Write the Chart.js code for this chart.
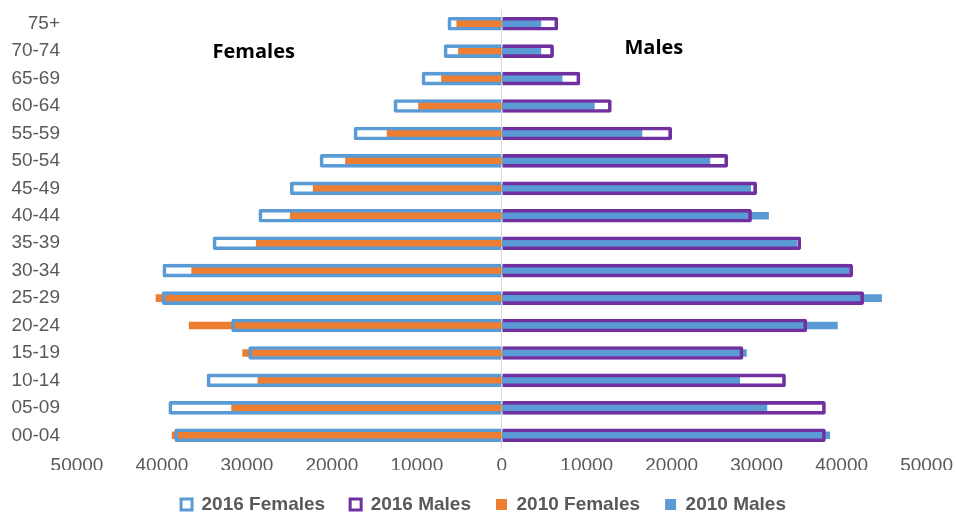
<!DOCTYPE html>
<html>
<head>
<meta charset="utf-8">
<script src="https://cdn.jsdelivr.net/npm/chart.js@4/dist/chart.umd.min.js"></script>
<style>
  html, body { margin: 0; padding: 0; background: #ffffff; }
  #wrap { width: 956px; height: 513px; position: relative; }
</style>
</head>
<body>
<div id="wrap"><canvas id="pyramid"></canvas></div>
<script>
// Age groups, youngest first (drawn bottom-up)
const ageGroups = ['00-04', '05-09', '10-14', '15-19', '20-24', '25-29', '30-34', '35-39',
                   '40-44', '45-49', '50-54', '55-59', '60-64', '65-69', '70-74', '75+'];

// Population counts per age group
const females2016 = [38500, 39200, 34700, 29800, 31800, 40000, 39900, 34000,
                     28600, 24900, 21400, 17400, 12700, 9400, 6800, 6350];
const males2016   = [38100, 38100, 33400, 28400, 35900, 42600, 41300, 35200,
                     29400, 30000, 26600, 20000, 12900, 9200, 6100, 6600];
const females2010 = [38800, 31800, 28700, 30500, 36800, 40700, 36500, 28900,
                     24900, 22200, 18400, 13500, 9800, 7100, 5100, 5300];
const males2010   = [38600, 31200, 28000, 28800, 39500, 44700, 40900, 34700,
                     31400, 29300, 24500, 16500, 10900, 7100, 4600, 4600];

// Axis tick values
const axisMin = -50000;
const axisMax = 50000;
const axisStep = 10000;

const BLUE = '#5B9BD5';
const ORANGE = '#ED7D31';
const PURPLE = '#7030A0';
const TEXT = '#595959';
const NONE = 'rgba(0,0,0,0)';

// Side captions placed inside the plot area
const sideTitles = {
  id: 'sideTitles',
  afterDatasetsDraw(chart) {
    const { ctx, chartArea: a } = chart;
    const w = a.right - a.left, h = a.bottom - a.top;
    ctx.save();
    ctx.fillStyle = '#000000';
    ctx.font = 'bold 20px "Open Sans", "Liberation Sans", sans-serif';
    ctx.textAlign = 'center';
    ctx.textBaseline = 'middle';
    ctx.fillText('Females', a.left + w * 0.208, a.top + h * 0.096);
    ctx.fillText('Males', a.left + w * 0.679, a.top + h * 0.088);
    ctx.restore();
  }
};

const outline = (label, values, color, sign) => ({
  label,
  data: values.map(v => sign * v),
  backgroundColor: NONE,
  borderColor: color,
  borderWidth: 3,
  borderRadius: 2,
  barThickness: 13
});

const filled = (label, values, color, sign) => ({
  label,
  data: values.map(v => sign * v),
  backgroundColor: color,
  borderWidth: 0,
  barThickness: 7
});

const tickFont = { family: '"Liberation Sans", Arial, sans-serif', size: 19, lineHeight: 1 };

new Chart(document.getElementById('pyramid'), {
  type: 'bar',
  data: {
    labels: ageGroups,
    datasets: [
      outline('2016 Females', females2016, BLUE, -1),
      outline('2016 Males', males2016, PURPLE, 1),
      filled('2010 Females', females2010, ORANGE, -1),
      filled('2010 Males', males2010, BLUE, 1)
    ]
  },
  options: {
    indexAxis: 'y',
    responsive: true,
    maintainAspectRatio: false,
    animation: false,
    layout: { padding: { top: 10, right: 0, left: 11, bottom: 0 } },
    scales: {
      x: {
        min: axisMin,
        max: axisMax,
        stacked: false,
        border: { display: false },
        grid: {
          drawTicks: true,
          tickLength: 4,
          tickColor: NONE,
          lineWidth: 1,
          color: c => (c.tick && c.tick.value === 0 ? '#d9d9d9' : NONE)
        },
        ticks: {
          stepSize: axisStep,
          padding: 3,
          color: TEXT,
          font: tickFont,
          callback: v => String(Math.abs(v))
        },
        afterFit: s => { s.height = 21; }
      },
      y: {
        stacked: true,
        reverse: true,
        border: { display: false },
        grid: {
          display: true,
          drawOnChartArea: false,
          drawTicks: true,
          tickLength: 17,
          tickColor: NONE,
          color: NONE
        },
        ticks: {
          padding: 0,
          color: TEXT,
          font: tickFont
        },
        afterFit: s => { s.width = 66; }
      }
    },
    plugins: {
      tooltip: { enabled: false },
      legend: {
        position: 'bottom',
        maxHeight: 43,
        labels: {
          boxWidth: 11,
          boxHeight: 11,
          padding: 25,
          color: TEXT,
          font: { family: '"Liberation Sans", Arial, sans-serif', size: 19, weight: 'bold' }
        }
      }
    }
  },
  plugins: [sideTitles]
});
</script>
</body>
</html>
